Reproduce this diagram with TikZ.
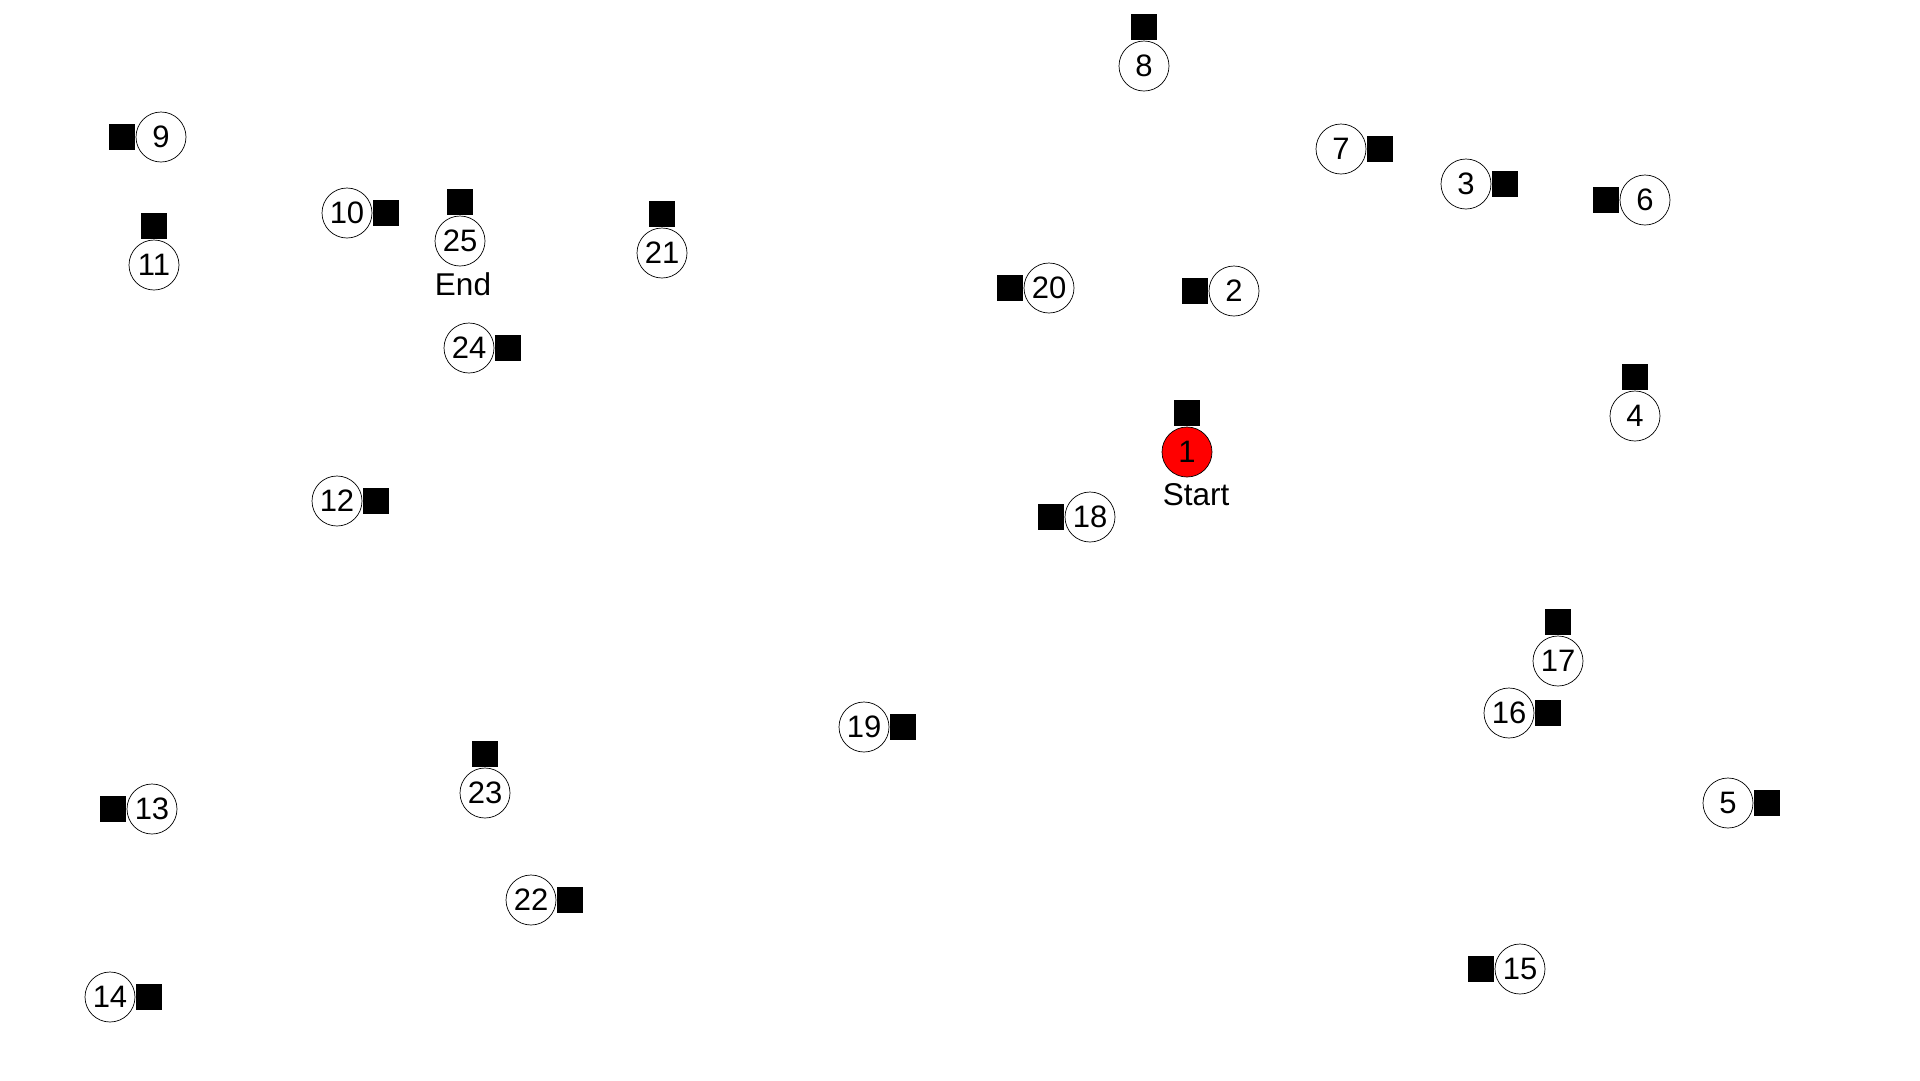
\documentclass[tikz,border=0pt]{standalone}
\usepackage{fontspec}
\setmainfont{Liberation Sans}
\usetikzlibrary{positioning}
\begin{document}
\begin{tikzpicture}[x=1pt,y=-1pt,
  city/.style={circle,draw=black,line width=0.7pt,fill=white,minimum size=50pt,inner sep=0pt,font=\fontsize{31}{36}\selectfont},
  startcity/.style={city,fill=red},
  sq/.style={rectangle,fill=black,minimum size=26pt,inner sep=0pt},
  lbl/.style={inner sep=0pt,font=\fontsize{31.5}{36}\selectfont}]
\useasboundingbox[fill=white] (0,0) rectangle (1920,1080);
% cities
\node[startcity] (n1) at (1187,452) {1};
\node[city] (n2) at (1234,291) {2};
\node[city] (n3) at (1466,184) {3};
\node[city] (n4) at (1635,416) {4};
\node[city] (n5) at (1728,803) {5};
\node[city] (n6) at (1645,200) {6};
\node[city] (n7) at (1341,149) {7};
\node[city] (n8) at (1144,66) {8};
\node[city] (n9) at (161,137) {9};
\node[city] (n10) at (347,213) {10};
\node[city] (n11) at (154,265) {11};
\node[city] (n12) at (337,501) {12};
\node[city] (n13) at (152,809) {13};
\node[city] (n14) at (110,997) {14};
\node[city] (n15) at (1520,969) {15};
\node[city] (n16) at (1509,713) {16};
\node[city] (n17) at (1558,661) {17};
\node[city] (n18) at (1090,517) {18};
\node[city] (n19) at (864,727) {19};
\node[city] (n20) at (1049,288) {20};
\node[city] (n21) at (662,253) {21};
\node[city] (n22) at (531,900) {22};
\node[city] (n23) at (485,793) {23};
\node[city] (n24) at (469,348) {24};
\node[city] (n25) at (460,241) {25};
% squares
\node[sq,above=0pt of n1] (s1) {};
\node[sq,left=0pt of n2] (s2) {};
\node[sq,right=0pt of n3] (s3) {};
\node[sq,above=0pt of n4] (s4) {};
\node[sq,right=0pt of n5] (s5) {};
\node[sq,left=0pt of n6] (s6) {};
\node[sq,right=0pt of n7] (s7) {};
\node[sq,above=0pt of n8] (s8) {};
\node[sq,left=0pt of n9] (s9) {};
\node[sq,right=0pt of n10] (s10) {};
\node[sq,above=0pt of n11] (s11) {};
\node[sq,right=0pt of n12] (s12) {};
\node[sq,left=0pt of n13] (s13) {};
\node[sq,right=0pt of n14] (s14) {};
\node[sq,left=0pt of n15] (s15) {};
\node[sq,right=0pt of n16] (s16) {};
\node[sq,above=0pt of n17] (s17) {};
\node[sq,left=0pt of n18] (s18) {};
\node[sq,right=0pt of n19] (s19) {};
\node[sq,left=0pt of n20] (s20) {};
\node[sq,above=0pt of n21] (s21) {};
\node[sq,right=0pt of n22] (s22) {};
\node[sq,above=0pt of n23] (s23) {};
\node[sq,right=0pt of n24] (s24) {};
\node[sq,above=0pt of n25] (s25) {};
% labels
\node[lbl] (start) at (1196,495) {Start};
\node[lbl] (end) at (463,284) {End};
\end{tikzpicture}
\end{document}
